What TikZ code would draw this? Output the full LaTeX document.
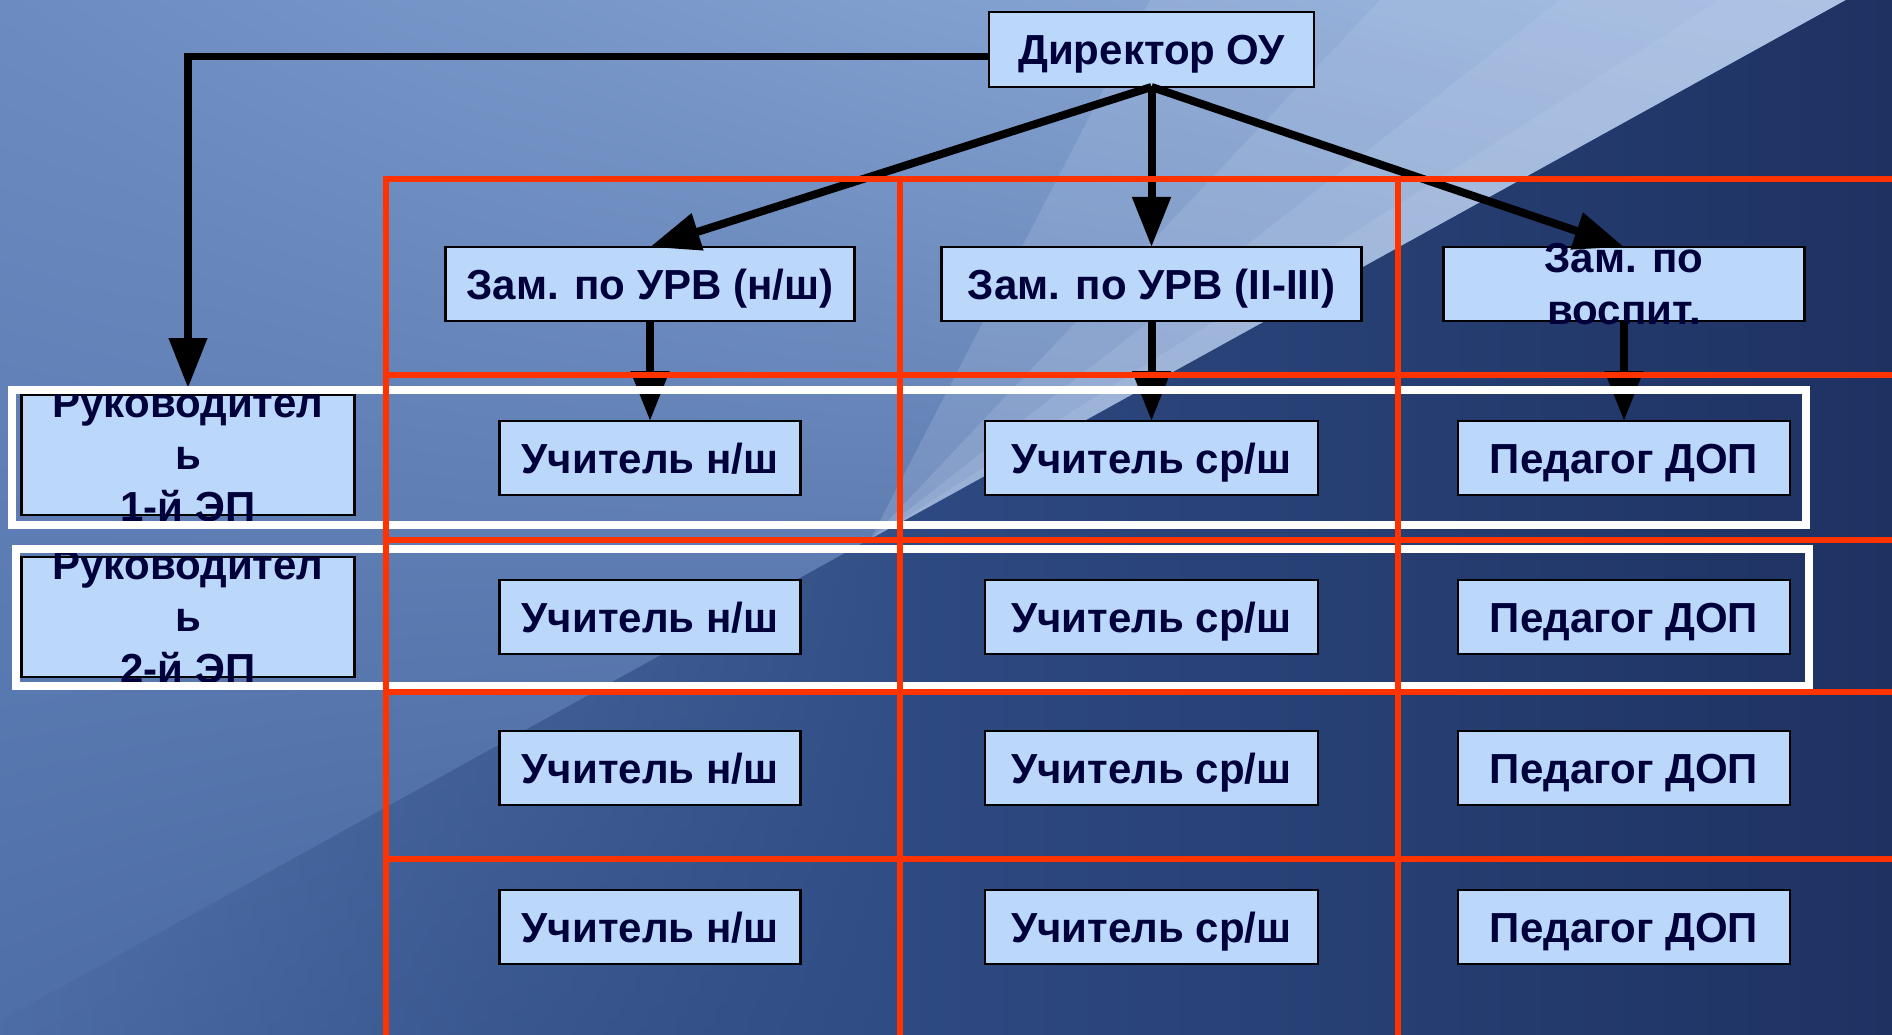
\documentclass[tikz,border=0pt]{standalone}
\usepackage{fontspec}
\setmainfont{Liberation Sans}
\usetikzlibrary{positioning,arrows.meta,fadings,shadings}

\definecolor{boxblue}{RGB}{187,216,250}
\definecolor{inknavy}{RGB}{0,0,58}
\definecolor{gridred}{RGB}{255,51,0}
\definecolor{bgdark}{RGB}{30,50,98}
\definecolor{bgmid}{RGB}{46,74,130}
\definecolor{bglight}{RGB}{190,208,236}
\definecolor{bgul}{RGB}{108,140,193}
\definecolor{bgll}{RGB}{78,110,168}
\definecolor{bgur}{RGB}{150,178,220}
\definecolor{bglr}{RGB}{50,78,132}

\tikzfading[name=darkfade, left color=transparent!100, middle color=transparent!80, right color=transparent!10]

\begin{document}
\begin{tikzpicture}[
        x=1pt, y=-1pt,
        box/.style={draw=black, line width=2.5pt, fill=boxblue, inner sep=0pt, outer sep=0pt,
            text=inknavy, text height=30pt, text depth=0pt, font=\bfseries\fontsize{42}{52}\selectfont},
        boss/.style={box, minimum width=325pt, minimum height=75pt},
        zam/.style={box, minimum height=74pt},
        teach/.style={box, minimum height=74pt},
        ruk/.style={box, minimum width=333pt, minimum height=120pt},
        caption/.style={inner sep=0pt, align=center, text=inknavy,
            font=\bfseries\fontsize{42}{52}\selectfont},
        link/.style={draw, line width=8pt, -{Triangle[length=50pt,width=37pt]}},
        frame/.style={draw=white, line width=8pt},
        redline/.style={draw=gridred, line width=6.5pt},
        streak/.style={fill=bglight, fill opacity=0.22}
    ]
        % Background
        \useasboundingbox (0,0) rectangle (1892,1035);
        \shade[upper left=bgul, lower left=bgll, upper right=bgur, lower right=bglr]
            (0,0) rectangle (1892,1035);
        \foreach \s in {1720,1560,1380,1150}
            \fill[streak] (1846,0) -- (870,540) -- (\s,0) -- cycle;
        \shade[left color=bgmid, right color=bgdark]
            (1846,0) -- (1892,0) -- (1892,1035) -- (900,1035) -- (900,523) -- cycle;
        \fill[bgmid, path fading=darkfade] (900,523) -- (900,1035) -- (-25,1035) -- cycle;

        % Nodes
        \node[boss] (dir) at (1151.5,49.5) {Директор ОУ};
        \node[zam, minimum width=420pt, below=160pt of dir] (zam2) {Зам. по УРВ (II-III)};
        \node[zam, minimum width=409pt, left=87pt of zam2] (zam1) {Зам. по УРВ (н/ш)};
        \node[zam, minimum width=361pt, right=82pt of zam2] (zam3) {};
        \node[caption] (zam3t) at (zam3) {Зам. по\\воспит.};

        \node[teach, minimum width=301pt, below=100pt of zam1] (t11) {Учитель н/ш};
        \node[teach, minimum width=333pt, below=100pt of zam2] (t12) {Учитель ср/ш};
        \node[teach, minimum width=332pt, below=100pt of zam3] (t13) {Педагог ДОП};
        \node[teach, minimum width=301pt, below=85pt of t11] (t21) {Учитель н/ш};
        \node[teach, minimum width=333pt, below=85pt of t12] (t22) {Учитель ср/ш};
        \node[teach, minimum width=332pt, below=85pt of t13] (t23) {Педагог ДОП};
        \node[teach, minimum width=301pt, below=77pt of t21] (t31) {Учитель н/ш};
        \node[teach, minimum width=333pt, below=77pt of t22] (t32) {Учитель ср/ш};
        \node[teach, minimum width=332pt, below=77pt of t23] (t33) {Педагог ДОП};
        \node[teach, minimum width=301pt, below=85pt of t31] (t41) {Учитель н/ш};
        \node[teach, minimum width=333pt, below=85pt of t32] (t42) {Учитель ср/ш};
        \node[teach, minimum width=332pt, below=85pt of t33] (t43) {Педагог ДОП};

        \node[ruk, left=145pt of t11, yshift=3pt] (ruk1) {};
        \node[caption] (ruk1t) at (ruk1) {Руководител\\ь\\1-й ЭП};
        \node[ruk, left=145pt of t21] (ruk2) {};
        \node[caption] (ruk2t) at (ruk2) {Руководител\\ь\\2-й ЭП};

        % Edges
        \draw[link] (dir.south) -- (zam1.north);
        \draw[link] (dir.south) -- (zam2.north);
        \draw[link] (dir.south) -- (zam3.north);
        \foreach \i in {1,2,3}
            \draw[link] (zam\i.south) -- (t1\i.north);
        \draw[link, line width=7.5pt, shorten >=7pt] ([yshift=-7pt]dir.west) -| (ruk1.north);

        % Frames and grid
        \draw[frame] (12,390) rectangle (1806,525);
        \draw[frame] (16,549) rectangle (1809,686);
        \foreach \y in {179,375,540,692,859}
            \draw[redline] (383,\y) -- (1892,\y);
        \foreach \x in {386,900,1398}
            \draw[redline] (\x,176) -- (\x,1035);
    \end{tikzpicture}
\end{document}
